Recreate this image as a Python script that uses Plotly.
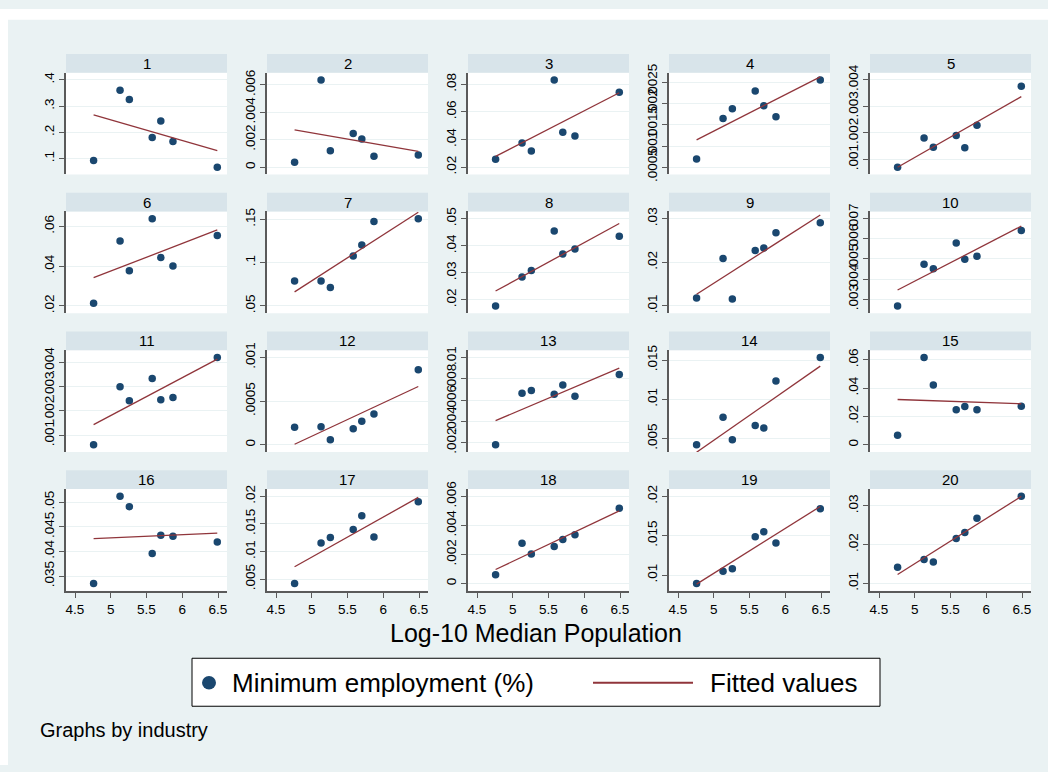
import numpy as np
import plotly.graph_objects as go

# ---------------- data ----------------
log_pop = [4.76, 5.13, 5.26, 5.58, 5.70, 5.87, 6.49]
industries = [str(i) for i in range(1, 21)]

emp_01 = [0.0925, 0.361, 0.325, 0.180, 0.243, 0.165, 0.067]
emp_02 = [0.00036, 0.00636, 0.0012, 0.00245, 0.00206, 0.00079, 0.00089]
emp_03 = [0.0257, 0.0374, 0.0317, 0.0831, 0.0452, 0.0426, 0.0743]
emp_04 = [0.000694, 0.00165, 0.00188, 0.00230, 0.00195, 0.00169, 0.00256]
emp_05 = [0.00070, 0.00180, 0.00145, 0.00190, 0.00143, 0.00229, 0.00376]
emp_06 = [0.0213, 0.0526, 0.0377, 0.0638, 0.0443, 0.0400, 0.0554]
emp_07 = [0.0787, 0.0787, 0.0713, 0.1078, 0.1205, 0.1475, 0.1508]
emp_08 = [0.0178, 0.0285, 0.0309, 0.0455, 0.0370, 0.0388, 0.0435]
emp_09 = [0.0118, 0.0209, 0.0116, 0.0227, 0.0233, 0.0268, 0.0291]
emp_10 = [0.00266, 0.00474, 0.00451, 0.00579, 0.00498, 0.00513, 0.00641]
emp_11 = [0.00061, 0.00300, 0.00242, 0.00334, 0.00246, 0.00255, 0.00420]
emp_12 = [0.000200, 0.000207, 0.000056, 0.000184, 0.000270, 0.000353, 0.000861]
emp_13 = [0.00181, 0.00665, 0.00690, 0.00656, 0.00741, 0.00637, 0.00840]
emp_14 = [0.00423, 0.00773, 0.00486, 0.00668, 0.00636, 0.01232, 0.01532]
emp_15 = [0.00674, 0.0616, 0.0421, 0.0247, 0.0270, 0.0247, 0.0272]
emp_16 = [0.0335, 0.0512, 0.0491, 0.0396, 0.0433, 0.0431, 0.0419]
emp_17 = [0.00423, 0.01155, 0.01256, 0.01399, 0.01649, 0.01262, 0.01899]
emp_18 = [0.00059, 0.00277, 0.00202, 0.00255, 0.00302, 0.00336, 0.00518]
emp_19 = [0.00894, 0.01050, 0.01080, 0.01487, 0.01550, 0.01407, 0.01843]
emp_20 = [0.01415, 0.01619, 0.01551, 0.02160, 0.02314, 0.02678, 0.03246]

yt_01 = [0.1, 0.2, 0.3, 0.4]
yt_02 = [0, 0.002, 0.004, 0.006]
yt_03 = [0.02, 0.04, 0.06, 0.08]
yt_04 = [0.0005, 0.001, 0.0015, 0.002, 0.0025]
yt_05 = [0.001, 0.002, 0.003, 0.004]
yt_06 = [0.02, 0.04, 0.06]
yt_07 = [0.05, 0.1, 0.15]
yt_08 = [0.02, 0.03, 0.04, 0.05]
yt_09 = [0.01, 0.02, 0.03]
yt_10 = [0.003, 0.004, 0.005, 0.006, 0.007]
yt_11 = [0.001, 0.002, 0.003, 0.004]
yt_12 = [0, 0.0005, 0.001]
yt_13 = [0.002, 0.004, 0.006, 0.008, 0.01]
yt_14 = [0.005, 0.01, 0.015]
yt_15 = [0, 0.02, 0.04, 0.06]
yt_16 = [0.035, 0.04, 0.045, 0.05]
yt_17 = [0.005, 0.01, 0.015, 0.02]
yt_18 = [0, 0.002, 0.004, 0.006]
yt_19 = [0.01, 0.015, 0.02]
yt_20 = [0.01, 0.02, 0.03]

xt_vals = [4.5, 5, 5.5, 6, 6.5]
xt_text = ["4.5", "5", "5.5", "6", "6.5"]

series = [emp_01, emp_02, emp_03, emp_04, emp_05, emp_06, emp_07, emp_08, emp_09, emp_10,
          emp_11, emp_12, emp_13, emp_14, emp_15, emp_16, emp_17, emp_18, emp_19, emp_20]
yticks = [yt_01, yt_02, yt_03, yt_04, yt_05, yt_06, yt_07, yt_08, yt_09, yt_10,
          yt_11, yt_12, yt_13, yt_14, yt_15, yt_16, yt_17, yt_18, yt_19, yt_20]

# ---------------- style / layout ----------------
W, H = 1048, 772
FONT = "Liberation Sans, Arial, Helvetica, sans-serif"
BG = "#EAF2F3"
STRIP = "#D8E4EA"
NAVY = "#1A476F"
MAROON = "#90353B"
AXC = "#5a5a5a"


def X(px):
    return px / W


def Y(py):
    return 1 - py / H


def lab(v):
    if v == 0:
        return "0"
    s = f"{v:g}"
    if "e" in s:
        s = f"{v:.6f}".rstrip("0")
    return s.replace("0.", ".", 1) if s.startswith("0.") else s


col_x0, col_step, pw = 66, 201, 161
row_y0, row_step, sh, ph = 46, 141.7, 19, 104

fig = go.Figure()
shapes = []
annotations = []

x_lo, x_hi = min(xt_vals), max(xt_vals)
x_pad = (x_hi - x_lo) * 9 / (pw - 18)

xs = np.array(log_pop)
for i, (ys, ticks) in enumerate(zip(series, yticks)):
    r, c = divmod(i, 5)
    sfx = "" if i == 0 else str(i + 1)
    x0 = col_x0 + col_step * c
    st = row_y0 + row_step * r
    pt = st + sh
    pb = pt + ph

    yarr = np.array(ys)
    slope, icpt = np.polyfit(xs, yarr, 1)
    xf = np.array([xs.min(), xs.max()])
    yf = icpt + slope * xf

    fig.add_trace(go.Scatter(x=log_pop, y=ys, mode="markers",
                             marker=dict(color=NAVY, size=7.5),
                             xaxis="x" + sfx, yaxis="y" + sfx,
                             showlegend=False, hoverinfo="skip"))
    fig.add_trace(go.Scatter(x=xf, y=yf, mode="lines",
                             line=dict(color=MAROON, width=1.3),
                             xaxis="x" + sfx, yaxis="y" + sfx,
                             showlegend=False, hoverinfo="skip"))

    lo = min(min(ys), min(ticks))
    hi = max(max(ys), max(ticks))
    pad = (hi - lo) * 7.5 / (ph - 15)
    bottom = r == 3

    fig.layout["xaxis" + sfx] = dict(
        domain=[X(x0), X(x0 + pw)], anchor="y" + sfx,
        range=[x_lo - x_pad, x_hi + x_pad],
        showgrid=False, zeroline=False,
        showline=bottom, linecolor=AXC, linewidth=1.5,
        ticks="outside" if bottom else "", ticklen=5, tickcolor=AXC, tickwidth=1.2,
        tickvals=xt_vals, ticktext=xt_text, showticklabels=bottom,
        tickfont=dict(family=FONT, size=13.5, color="black"),
    )
    fig.layout["yaxis" + sfx] = dict(
        domain=[Y(pb), Y(pt)], anchor="x" + sfx,
        range=[lo - pad, hi + pad],
        showgrid=True, gridcolor=BG, gridwidth=1.2, zeroline=False,
        showline=True, linecolor=AXC, linewidth=1.5,
        ticks="outside", ticklen=5, tickcolor=AXC, tickwidth=1.2,
        tickvals=ticks, ticktext=[lab(v) for v in ticks], tickangle=-90,
        tickfont=dict(family=FONT, size=13.5, color="black"),
    )

    shapes.append(dict(type="rect", xref="paper", yref="paper",
                       x0=X(x0), x1=X(x0 + pw), y0=Y(pt), y1=Y(st),
                       fillcolor=STRIP, line=dict(width=0), layer="below"))
    annotations.append(dict(text=industries[i], xref="paper", yref="paper",
                            x=X(x0 + pw / 2), y=Y(st + sh / 2), showarrow=False,
                            xanchor="center", yanchor="middle",
                            font=dict(family=FONT, size=15, color="black")))

# white outer margins (top / left)
shapes.append(dict(type="rect", xref="paper", yref="paper", x0=0, x1=1, y0=Y(11), y1=1,
                   fillcolor="white", line=dict(width=0), layer="below"))
shapes.append(dict(type="rect", xref="paper", yref="paper", x0=0, x1=X(8), y0=0, y1=1,
                   fillcolor="white", line=dict(width=0), layer="below"))

# x-axis title
annotations.append(dict(text="Log-10 Median Population", xref="paper", yref="paper",
                        x=X(536), y=Y(637), showarrow=False, xanchor="center", yanchor="middle",
                        font=dict(family=FONT, size=25, color="black")))

# legend box
shapes.append(dict(type="rect", xref="paper", yref="paper",
                   x0=X(192), x1=X(880), y0=Y(712), y1=Y(663),
                   fillcolor="white", line=dict(color="black", width=1)))
shapes.append(dict(type="circle", xref="paper", yref="paper",
                   x0=X(202), x1=X(216), y0=Y(695), y1=Y(681),
                   fillcolor=NAVY, line=dict(width=0)))
shapes.append(dict(type="line", xref="paper", yref="paper",
                   x0=X(593), x1=X(693), y0=Y(688), y1=Y(688),
                   line=dict(color=MAROON, width=2)))
annotations.append(dict(text="Minimum employment (%)", xref="paper", yref="paper",
                        x=X(230), y=Y(688), showarrow=False, xanchor="left", yanchor="middle",
                        font=dict(family=FONT, size=26, color="black")))
annotations.append(dict(text="Fitted values", xref="paper", yref="paper",
                        x=X(708), y=Y(688), showarrow=False, xanchor="left", yanchor="middle",
                        font=dict(family=FONT, size=26, color="black")))

# note
annotations.append(dict(text="Graphs by industry", xref="paper", yref="paper",
                        x=X(38), y=Y(736), showarrow=False, xanchor="left", yanchor="middle",
                        font=dict(family=FONT, size=20, color="black")))

fig.update_layout(
    width=W, height=H,
    margin=dict(l=0, r=0, t=0, b=0),
    paper_bgcolor=BG, plot_bgcolor="white",
    shapes=shapes, annotations=annotations,
    showlegend=False,
    font=dict(family=FONT, color="black"),
)

fig.write_html("out.html",
               post_script="document.body.style.margin='0';document.body.style.overflow='hidden';")
